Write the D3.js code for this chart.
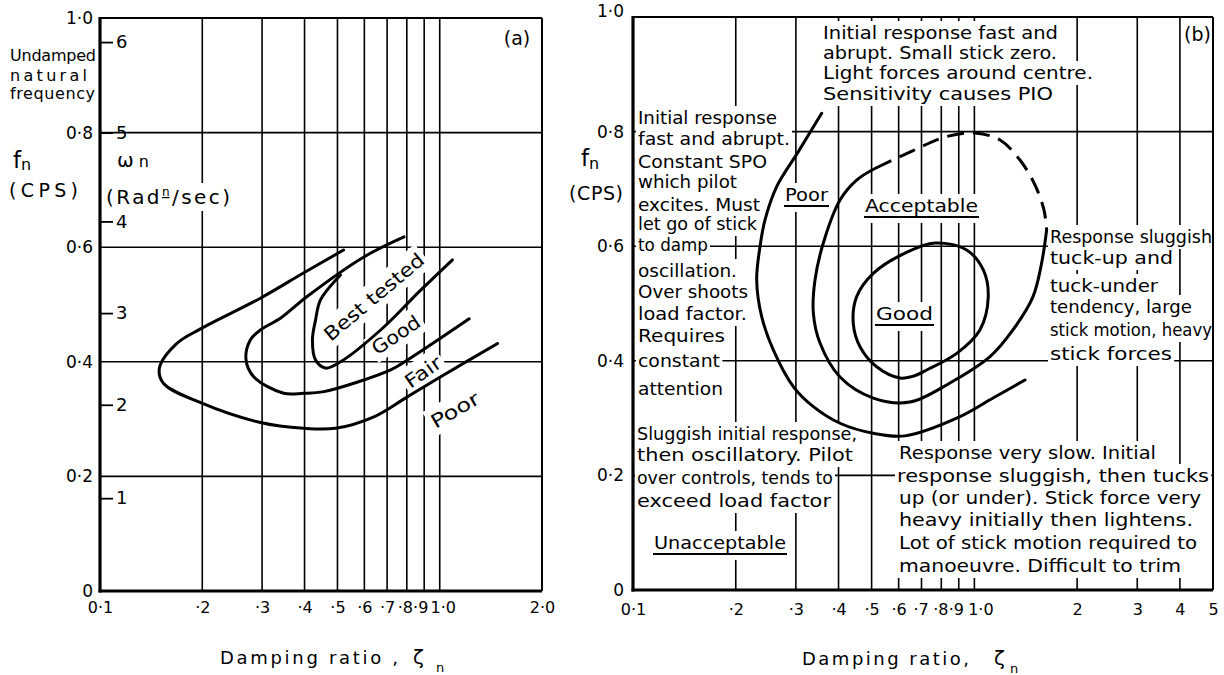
<!DOCTYPE html>
<html><head><meta charset="utf-8">
<script src="https://cdn.jsdelivr.net/npm/d3@7"></script>
<style>
body{margin:0;background:#fff;}
svg{display:block;font-family:"DejaVu Sans",sans-serif;}
</style></head><body>
<svg id="c" width="1224" height="675"></svg>
<script>
// ================= DATA =================
const xTicksA = [0.1,0.2,0.3,0.4,0.5,0.6,0.7,0.8,0.9,1.0,2.0];
const xTickLabelsA = ["0·1","·2","·3","·4","·5","·6","·7","·8","·9","1·0","2·0"];
const xTicksB = [0.1,0.2,0.3,0.4,0.5,0.6,0.7,0.8,0.9,1,2,3,4,5];
const xTickLabelsB = ["0·1","·2","·3","·4","·5","·6","·7","·8","·9","1·0","2","3","4","5"];
const yTicks = [0,0.2,0.4,0.6,0.8,1.0];
const yTickLabels = ["0","0·2","0·4","0·6","0·8","1·0"];
const omegaLabels = ["1","2","3","4","5","6"];
const omegaTickFreqs = [0.162,0.325,0.485,0.645,0.80,0.958];

// Panel (a) boundaries: [damping ratio, fn (cps)]
const poorBoundaryA = [[0.521,0.595],[0.397,0.555],[0.2965,0.511],[0.197,0.457],[0.1684,0.432],[0.1496,0.389],[0.1537,0.3625],[0.197,0.329],[0.2965,0.294],[0.397,0.284],[0.4935,0.284],[0.640,0.304],[0.794,0.337],[1.007,0.374],[1.48,0.432]];
const fairBoundaryA = [[0.785,0.618],[0.598,0.583],[0.407,0.514],[0.3396,0.476],[0.2965,0.4555],[0.277,0.438],[0.269,0.404],[0.2834,0.374],[0.3474,0.345],[0.397,0.345],[0.456,0.348],[0.717,0.386],[0.803,0.403],[1.221,0.475]];
const goodBoundaryA = [[0.5106,0.5515],[0.4457,0.508],[0.431,0.473],[0.422,0.438],[0.431,0.403],[0.461,0.389],[0.5106,0.400],[0.670,0.4555],[0.879,0.525],[1.09,0.578]];

// Panel (b) boundaries
const unacceptableBoundaryB = [[0.357,0.832],[0.305,0.765],[0.2636,0.704],[0.2436,0.646],[0.2355,0.599],[0.2303,0.541],[0.2382,0.477],[0.2576,0.419],[0.2948,0.355],[0.3375,0.320],[0.404,0.291],[0.5056,0.2735],[0.626,0.269],[0.908,0.3025],[1.134,0.335],[1.407,0.3665]];
const acceptableSolidB = [[1.628,0.6283],[1.574,0.5707],[1.485,0.512],[1.297,0.4538],[1.111,0.4072],[0.848,0.3613],[0.6477,0.328],[0.5056,0.335],[0.404,0.3717],[0.353,0.431],[0.3375,0.4834],[0.3413,0.541],[0.361,0.6056],[0.404,0.6806],[0.452,0.7155],[0.515,0.7365]];
const acceptableDashedB = [[0.515,0.7365],[0.6566,0.766],[0.820,0.7906],[1.004,0.7976],[1.189,0.7853],[1.36,0.7504],[1.505,0.7068],[1.599,0.6632],[1.628,0.6283]];
const goodLoopB = [[0.7665,0.6056],[0.949,0.5934],[1.062,0.5585],[1.098,0.512],[1.038,0.4538],[0.8877,0.413],[0.7249,0.384],[0.6552,0.3723],[0.6055,0.37],[0.5172,0.3897],[0.4624,0.4246],[0.4418,0.4654],[0.452,0.512],[0.5056,0.5527],[0.626,0.588]];

// Annotation texts (panel b)
const topNote = ["Initial response fast and","abrupt. Small stick zero.","Light forces around centre.","Sensitivity causes PIO"];
const leftNote = ["Initial response","fast and abrupt.","Constant SPO","which pilot","excites. Must","let go of stick","to damp","oscillation.","Over shoots","load factor.","Requires","constant","attention"];
const lowLeftNote = ["Sluggish initial response,","then oscillatory. Pilot","over controls, tends to","exceed load factor"];
const rightNote = ["Response sluggish","tuck-up  and","tuck-under","tendency, large","stick motion, heavy","stick forces"];
const lowRightNote = ["Response very slow. Initial","response sluggish, then tucks","up (or under). Stick force very","heavy initially then lightens.","Lot of stick motion required to","manoeuvre. Difficult to trim"];

// ================= LAYOUT =================
const svg = d3.select("#c");
const gGrid = svg.append("g").attr("stroke","#000").attr("stroke-width",1.6);
const gBg = svg.append("g").attr("fill","#fff");
const gCurve = svg.append("g").attr("fill","none").attr("stroke","#000").attr("stroke-width",3).attr("stroke-linecap","round").attr("stroke-linejoin","round");
const gAxis = svg.append("g").attr("stroke","#000");
const gText = svg.append("g").attr("fill","#000");

const xA = d3.scaleLog().domain([0.1,2]).range([100,542]);
const yA = d3.scaleLinear().domain([0,1]).range([591,18]);
const xB = d3.scaleLog().domain([0.1,5]).range([633,1213]);
const yB = d3.scaleLinear().domain([0,1]).range([590,17]);

function label(s, x, y, o = {}) {
  const size = o.size || 16;
  const tf = `translate(${x},${y})` + (o.rot ? ` rotate(${o.rot})` : "");
  const t = gText.append("text").attr("transform", tf).attr("font-size", size)
    .attr("text-anchor", o.anchor || "start");
  if (o.dy) t.attr("dy", o.dy);
  if (o.ls) t.attr("letter-spacing", o.ls);
  t.text(s);
  if (o.w) t.attr("textLength", o.w).attr("lengthAdjust", o.adj || "spacingAndGlyphs");
  if (o.bg) {
    const b = t.node().getBBox();
    const p = o.pad == null ? 2 : o.pad;
    const pb = o.padBottom || 0;
    gBg.append("rect").attr("transform", tf)
      .attr("x", b.x - p).attr("y", b.y - p)
      .attr("width", b.width + 2 * p).attr("height", b.height + 2 * p + pb);
  }
  return t;
}

function grid(xs, ys, xv, yv) {
  const [x0, x1] = xs.range(), [y0, y1] = ys.range();
  xv.forEach(v => gGrid.append("line").attr("x1", xs(v)).attr("x2", xs(v)).attr("y1", y0).attr("y2", y1));
  yv.forEach(v => gGrid.append("line").attr("x1", x0).attr("x2", x1).attr("y1", ys(v)).attr("y2", ys(v)));
}
grid(xA, yA, xTicksA.slice(1, -1), yTicks.slice(1, -1));
grid(xB, yB, xTicksB.slice(1, -1), yTicks.slice(1, -1));

function frame(xs, ys) {
  const [x0, x1] = xs.range(), [y0, y1] = ys.range();
  gAxis.append("line").attr("x1", x0).attr("x2", x1).attr("y1", y1).attr("y2", y1).attr("stroke-width", 2);
  gAxis.append("line").attr("x1", x1).attr("x2", x1).attr("y1", y1).attr("y2", y0).attr("stroke-width", 2);
  gAxis.append("line").attr("x1", x0).attr("x2", x0).attr("y1", y1 - 1).attr("y2", y0 + 1.5).attr("stroke-width", 3.2);
  gAxis.append("line").attr("x1", x0 - 1.5).attr("x2", x1).attr("y1", y0).attr("y2", y0).attr("stroke-width", 3.2);
}
frame(xA, yA);
frame(xB, yB);

function styleAxis(g, size) {
  g.select(".domain").remove();
  g.attr("font-family", null).attr("font-size", size);
  g.selectAll("text").attr("fill", "#000");
}
// small horizontal nudges for the crowded labels near 1.0
const nudgeA = {0.8: -2, 0.9: -4, 1: 3};
const nudgeB = {0.7: -1, 0.8: -1, 0.9: -3, 1: 6};
// x axes
gText.append("g").attr("transform", `translate(0,${yA(0)})`)
  .call(d3.axisBottom(xA).tickValues(xTicksA).tickFormat((d, i) => xTickLabelsA[i]).tickSize(0).tickPadding(11))
  .call(g => styleAxis(g, 16))
  .selectAll(".tick text").attr("dx", d => nudgeA[d] || 0);
gText.append("g").attr("transform", `translate(0,${yB(0)})`)
  .call(d3.axisBottom(xB).tickValues(xTicksB).tickFormat((d, i) => xTickLabelsB[i]).tickSize(0).tickPadding(14))
  .call(g => styleAxis(g, 16))
  .selectAll(".tick text").attr("dx", d => nudgeB[d] || 0);
// y axes
gText.append("g").attr("transform", `translate(${xA(0.1)},0)`)
  .call(d3.axisLeft(yA).tickValues(yTicks).tickFormat((d, i) => yTickLabels[i]).tickSize(0).tickPadding(7))
  .call(g => styleAxis(g, 17));
const yAxB = gText.append("g").attr("transform", `translate(${xB(0.1)},0)`)
  .call(d3.axisLeft(yB).tickValues(yTicks).tickFormat((d, i) => yTickLabels[i]).tickSize(0).tickPadding(9))
  .call(g => styleAxis(g, 17));
yAxB.selectAll(".tick").filter(d => d === 1).select("text").attr("y", -6);

// omega (rad/sec) scale inside panel (a)
const omAx = gText.append("g").attr("transform", `translate(${xA(0.1)},0)`)
  .call(d3.axisRight(yA).tickValues(omegaTickFreqs).tickFormat((d, i) => omegaLabels[i]).tickSize(13).tickPadding(3))
  .call(g => styleAxis(g, 18));
omAx.selectAll(".tick line").attr("stroke", "#000").attr("stroke-width", 1.8);
omAx.selectAll(".tick").each(function () {
  const tick = d3.select(this), t = tick.select("text").node().getBBox();
  gBg.append("rect").attr("transform", tick.attr("transform"))
    .attr("x", t.x - 2).attr("y", t.y - 1).attr("width", t.width + 9).attr("height", t.height + 2);
});

// ================= CURVES =================
const lineA = d3.line().x(d => xA(d[0])).y(d => yA(d[1])).curve(d3.curveCatmullRom.alpha(0.5));
const lineB = d3.line().x(d => xB(d[0])).y(d => yB(d[1])).curve(d3.curveCatmullRom.alpha(0.5));
const loopB = d3.line().x(d => xB(d[0])).y(d => yB(d[1])).curve(d3.curveCatmullRomClosed.alpha(0.5));
[poorBoundaryA, fairBoundaryA, goodBoundaryA].forEach(c => gCurve.append("path").attr("d", lineA(c)));
gCurve.append("path").attr("d", lineB(unacceptableBoundaryB));
gCurve.append("path").attr("d", lineB(acceptableSolidB));
gCurve.append("path").attr("d", lineB(acceptableDashedB)).attr("stroke-dasharray", "17,9").attr("stroke-linecap", "butt");
gCurve.append("path").attr("d", loopB(goodLoopB));

// ================= TEXT: panel (a) =================
label("Undamped", 10, 61, {size: 16, w: 86, adj: "spacing"});
label("natural", 10, 81, {size: 16, w: 77, adj: "spacing"});
label("frequency", 10, 99, {size: 16, w: 85, adj: "spacing"});
const fa = gText.append("text").attr("x", 13).attr("y", 168).attr("font-size", 23);
fa.append("tspan").text("f");
fa.append("tspan").text("n").attr("font-size", 16).attr("dy", 2);
label("(CPS)", 9, 197, {size: 19, w: 69, adj: "spacing"});
const wn = gText.append("text").attr("x", 117).attr("y", 167).attr("font-size", 20);
wn.append("tspan").text("ω");
wn.append("tspan").text(" n").attr("font-size", 16);
{
  const t = gText.append("text").attr("x", 106).attr("y", 204).attr("font-size", 20)
    .attr("textLength", 124).attr("lengthAdjust", "spacing");
  t.append("tspan").text("(Rad");
  t.append("tspan").text("n").attr("font-size", 12).attr("dy", -8).attr("text-decoration", "underline");
  t.append("tspan").text("/sec)").attr("dy", 8);
  const b = t.node().getBBox();
  gBg.append("rect").attr("x", b.x - 2).attr("y", b.y - 2).attr("width", b.width + 4).attr("height", b.height + 4);
}
label("(a)", 517, 38, {size: 19, anchor: "middle", dy: "0.35em"});
label("Best tested", 374, 297, {size: 19, anchor: "middle", dy: "0.35em", rot: -40, w: 124, bg: true, pad: 3});
label("Good", 396, 335, {size: 19, anchor: "middle", dy: "0.35em", rot: -34, w: 54, bg: true, pad: 3});
label("Fair", 423, 372, {size: 19, anchor: "middle", dy: "0.35em", rot: -35, w: 40, bg: true, pad: 3});
label("Poor", 455, 410, {size: 19, anchor: "middle", dy: "0.35em", rot: -30, w: 53, bg: true, pad: 3});

// x titles
label("Damping ratio ,", 220, 664, {size: 18, w: 178, adj: "spacing"});
label("ζ", 413, 664, {size: 20});
label("n", 436, 672, {size: 13});
label("Damping ratio,", 802, 665, {size: 18, w: 167, adj: "spacing"});
label("ζ", 994, 665, {size: 20});
label("n", 1010, 673, {size: 13});

// ================= TEXT: panel (b) =================
const fb = gText.append("text").attr("x", 581).attr("y", 166).attr("font-size", 23);
fb.append("tspan").text("f");
fb.append("tspan").text("n").attr("font-size", 16).attr("dy", 3);
label("(CPS)", 569, 200, {size: 19, w: 54, adj: "spacing"});
label("(b)", 1184, 34, {size: 19, dy: "0.35em", bg: true, pad: 1});

const topY = [39, 59, 79, 100], topW = [235, 234, 270, 230];
topNote.forEach((s, i) => label(s, 823, topY[i], {size: 17, w: topW[i], bg: true}));
const leftY = [124, 145, 168, 188, 211, 230, 251, 277, 298, 320, 342, 367, 395];
const leftW = [139, 152, 129, 99, 122, 119, 70, 99, 110, 109, 87, 82, 85];
leftNote.forEach((s, i) => label(s, 638, leftY[i], {size: 17, w: leftW[i], bg: true}));
const llY = [440, 461, 484, 507], llW = [220, 216, 196, 194];
lowLeftNote.forEach((s, i) => label(s, 637, llY[i], {size: 17, w: llW[i], bg: true}));
const rY = [243, 264, 292, 313, 336, 360], rW = [162, 123, 108, 142, 162, 122];
rightNote.forEach((s, i) => label(s, 1050, rY[i], {size: 17, w: rW[i], bg: true}));
const lrY = [459, 482, 504, 526, 549, 572], lrX = [899, 897, 899, 899, 899, 899], lrW = [257, 312, 302, 294, 298, 282];
lowRightNote.forEach((s, i) => label(s, lrX[i], lrY[i], {size: 17, w: lrW[i], bg: true}));

function ulabel(s, x, y, w) {
  label(s, x, y, {size: 17, w: w, bg: true, padBottom: 5});
  gText.append("line").attr("x1", x - 1).attr("x2", x + w + 1).attr("y1", y + 5).attr("y2", y + 5)
    .attr("stroke", "#000").attr("stroke-width", 2);
}
ulabel("Poor", 785, 201, 43);
ulabel("Acceptable", 865, 212, 113);
ulabel("Good", 876, 320, 57);
ulabel("Unacceptable", 654, 549, 132);
</script>
</body></html>
